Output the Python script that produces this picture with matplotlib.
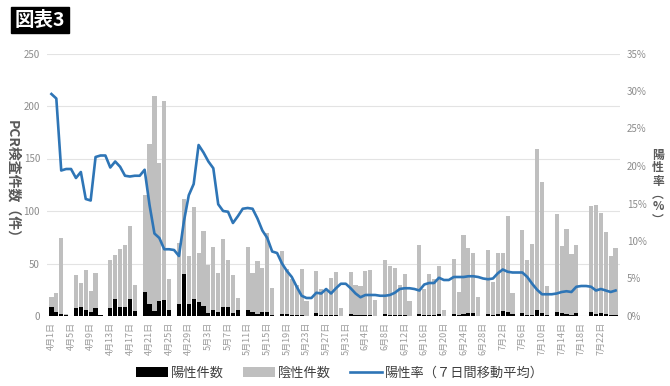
import matplotlib
matplotlib.use("Agg")
import matplotlib.pyplot as plt
import numpy as np
import datetime as dt

plt.rcParams['font.family'] = ['Noto Sans CJK JP', 'DejaVu Sans']

start = dt.date(2020, 4, 1)
n_days = 116
dates = [start + dt.timedelta(days=i) for i in range(n_days)]
date_labels = [f"{d.month}月{d.day}日" for d in dates]

positive = [9, 4, 2, 1, 0, 8, 9, 6, 4, 8, 1, 0, 8, 16, 9, 9, 16, 5, 0, 23,
            11, 5, 14, 15, 6, 0, 11, 40, 11, 16, 13, 10, 3, 6, 4, 9, 9, 3, 6, 0,
            6, 4, 2, 4, 4, 1, 0, 2, 2, 1, 1, 1, 0, 0, 3, 1, 1, 1, 1, 0,
            0, 2, 1, 1, 1, 1, 0, 0, 2, 1, 1, 1, 1, 0, 0, 2, 1, 1, 1, 2,
            0, 0, 2, 1, 2, 3, 3, 0, 0, 2, 1, 2, 5, 4, 2, 0, 3, 1, 1, 6,
            3, 1, 0, 4, 3, 2, 1, 3, 0, 0, 4, 2, 3, 2, 1, 1]

total = [18, 22, 74, 2, 0, 39, 31, 44, 24, 41, 1, 0, 53, 58, 64, 68, 86, 30, 0, 115,
         164, 210, 146, 205, 35, 0, 70, 111, 57, 104, 60, 81, 49, 66, 41, 73, 53, 39, 17, 0,
         66, 41, 52, 46, 79, 27, 0, 62, 45, 35, 30, 45, 14, 0, 43, 26, 25, 36, 42, 8,
         0, 42, 30, 29, 43, 44, 15, 0, 53, 48, 46, 30, 40, 14, 0, 68, 26, 40, 35, 48,
         6, 0, 54, 23, 77, 65, 60, 18, 0, 63, 32, 60, 60, 95, 22, 0, 82, 53, 69, 159,
         128, 29, 0, 97, 67, 83, 59, 68, 0, 0, 105, 106, 98, 80, 57, 65]

negative = [t - p for t, p in zip(total, positive)]

rate = [29.6, 29.0, 19.4, 19.6, 19.6, 18.4, 19.2, 15.6, 15.4, 21.2,
        21.4, 21.4, 19.8, 20.6, 19.9, 18.7, 18.6, 18.7, 18.7, 19.5,
        14.8, 11.0, 10.4, 8.9, 8.9, 8.8, 8.0, 12.6, 16.1, 17.6,
        22.8, 21.8, 20.6, 19.7, 14.9, 14.0, 13.9, 12.4, 13.3, 14.3,
        14.4, 14.3, 13.0, 11.4, 10.4, 8.6, 8.4, 7.0, 6.0, 5.2,
        3.9, 2.7, 2.4, 2.4, 3.1, 3.0, 3.6, 3.0, 3.7, 4.3,
        4.3, 3.7, 3.0, 2.5, 2.8, 2.8, 2.8, 2.7, 2.7, 2.8,
        3.1, 3.6, 3.7, 3.7, 3.6, 3.4, 4.2, 4.4, 4.4, 5.1,
        4.8, 4.8, 5.2, 5.2, 5.2, 5.3, 5.3, 5.2, 5.0, 4.9,
        5.0, 5.7, 6.2, 5.9, 5.8, 5.8, 5.8, 5.2, 4.3, 3.5,
        2.9, 2.9, 2.9, 3.0, 3.2, 3.3, 3.2, 3.9, 4.0, 4.0,
        3.9, 3.4, 3.6, 3.4, 3.2, 3.4]

left_ticks = [0, 50, 100, 150, 200, 250]
right_ticks = [0, 5, 10, 15, 20, 25, 30, 35]

W, H = 670, 386
fig = plt.figure(figsize=(W / 100, H / 100), dpi=100)
ax = fig.add_axes([47 / W, 1 - 316 / H, (620 - 47) / W, (316 - 53.5) / H])
ax2 = ax.twinx()

x = np.arange(n_days)
ax.bar(x, positive, width=0.85, color='#000000', zorder=2, label='陽性件数')
ax.bar(x, negative, width=0.85, bottom=positive, color='#bfbfbf', zorder=2, label='陰性件数')
ax2.plot(x, rate, color='#2e75b6', lw=1.9, zorder=3, label='陽性率（７日間移動平均）')

ax.set_ylim(0, 250)
ax2.set_ylim(0, 35)
ax.set_xlim(-0.9, n_days - 0.1)
ax.set_yticks(left_ticks)
ax2.set_yticks(right_ticks)
ax2.set_yticklabels([f"{t}%" for t in right_ticks])
ax.set_xticks(x[::4])
ax.set_xticklabels(date_labels[::4], rotation=90)

ax.grid(axis='y', color='#e3e3e3', lw=0.8, zorder=0)
ax.set_axisbelow(True)
for a in (ax, ax2):
    for s in a.spines.values():
        s.set_visible(False)
    a.tick_params(length=0, colors='#8c8c8c', labelsize=7)
ax.tick_params(axis='x', labelsize=6.5, pad=4, colors='#9a9a9a')
ax.tick_params(axis='y', pad=5)
ax2.tick_params(axis='y', pad=5)

# axis titles (vertical writing)
fig.text(12 / W, 1 - 182 / H, "PCR検査件数（件）", rotation=270, ha='center', va='center',
         fontsize=10, color='#595959', fontweight='bold')
right_chars = ["陽", "性", "率", "︵", "%", "︶"]
right_ys = [155, 168, 181, 194, 207, 220]
for ch, yy in zip(right_chars, right_ys):
    fig.text(658 / W, 1 - yy / H, ch, ha='center', va='center',
             fontsize=8.5, color='#595959', fontweight='bold')

# title box
fig.text(15 / W, 1 - 20 / H, "図表3", ha='left', va='center', fontsize=14, color='white',
         fontweight='bold', bbox=dict(boxstyle='square,pad=0.2', fc='black', ec='black'))

h1, l1 = ax.get_legend_handles_labels()
h2, l2 = ax2.get_legend_handles_labels()
fig.legend(h1 + h2, l1 + l2, loc='center', bbox_to_anchor=(340 / W, 1 - 373 / H), ncol=3,
           frameon=False, fontsize=9.5, handlelength=2.4, handleheight=0.8, columnspacing=1.5,
           handletextpad=0.2, labelcolor='#404040')

fig.savefig("out.png", dpi=100)
